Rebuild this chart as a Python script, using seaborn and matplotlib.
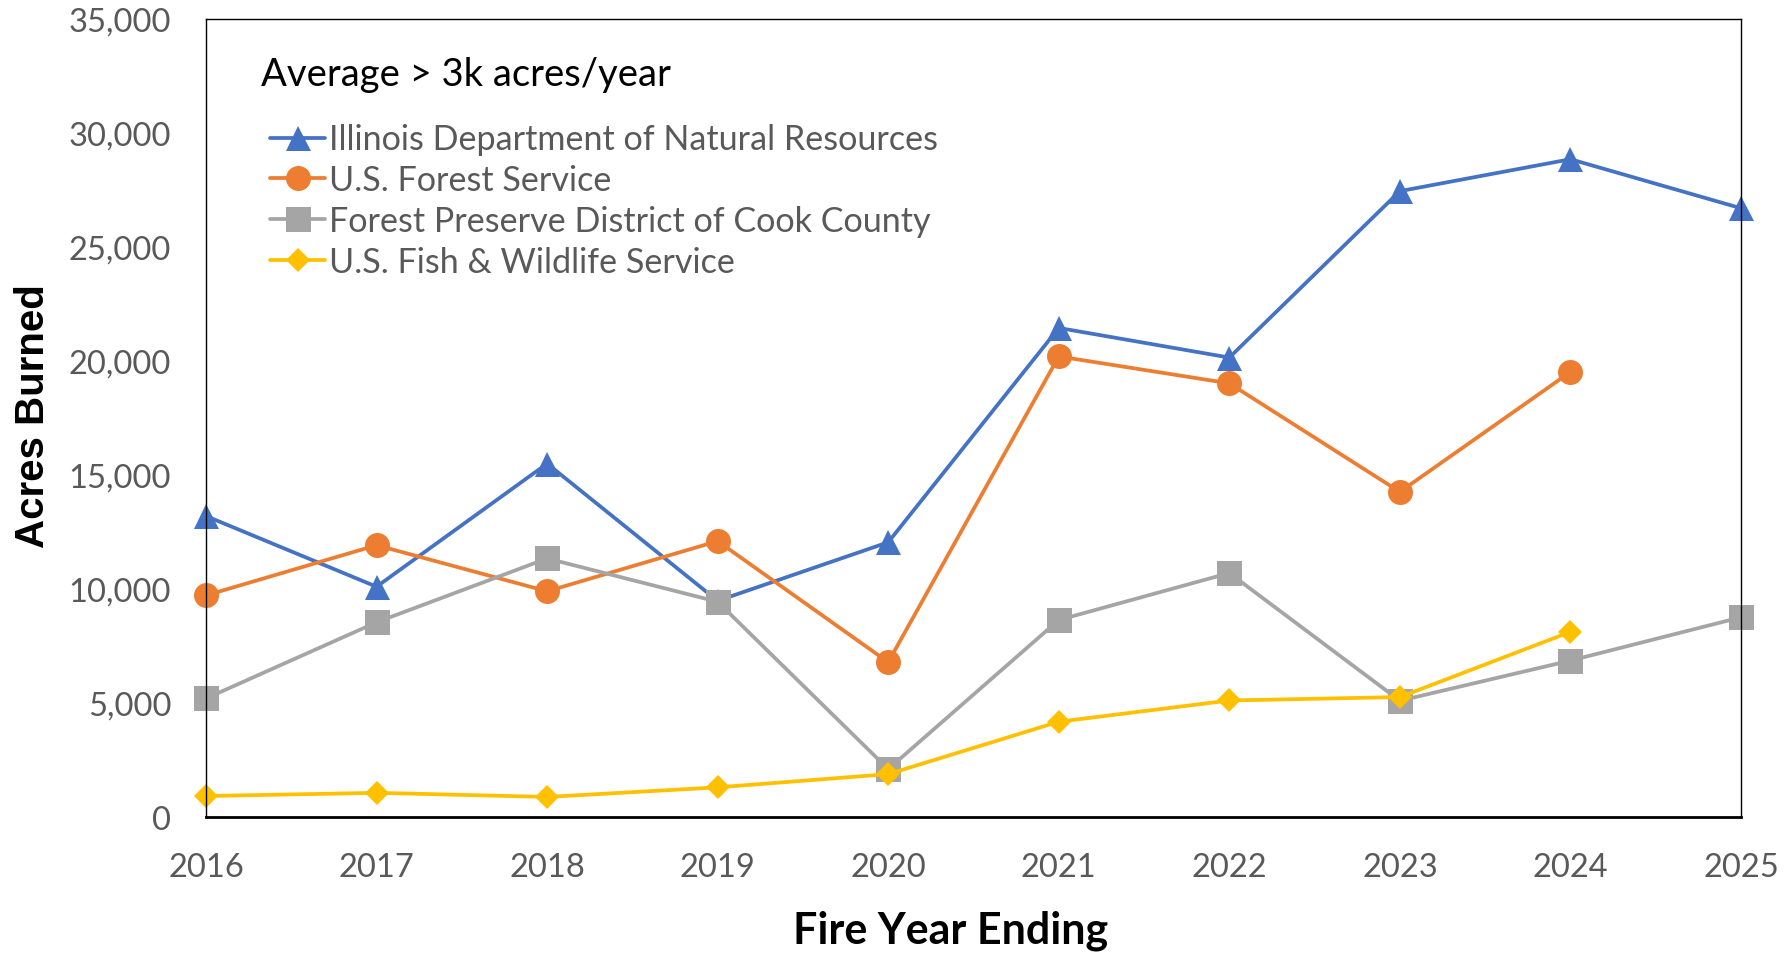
import matplotlib
matplotlib.use("Agg")
import matplotlib.pyplot as plt
import seaborn as sns
from matplotlib.ticker import FuncFormatter

sns.set_theme(style="white")
plt.rcParams['font.family'] = ['Lato', 'DejaVu Sans']

# ---- data ----
years = [2016, 2017, 2018, 2019, 2020, 2021, 2022, 2023, 2024, 2025]
idnr = [13200, 10100, 15500, 9480, 12050, 21450, 20150, 27450, 28850, 26700]
usfs_years = [2016, 2017, 2018, 2019, 2020, 2021, 2022, 2023, 2024]
usfs = [9720, 11920, 9900, 12100, 6790, 20200, 19020, 14260, 19520]
fpdcc = [5200, 8540, 11340, 9440, 2100, 8640, 10700, 5100, 6860, 8760]
usfws_years = [2016, 2017, 2018, 2019, 2020, 2021, 2022, 2023, 2024]
usfws = [920, 1060, 880, 1300, 1880, 4180, 5110, 5260, 8120]

series_names = ["Illinois Department of Natural Resources",
                "U.S. Forest Service",
                "Forest Preserve District of Cook County",
                "U.S. Fish & Wildlife Service"]
y_ticks = [0, 5000, 10000, 15000, 20000, 25000, 30000, 35000]
legend_title = "Average > 3k acres/year"
x_label = "Fire Year Ending"
y_label = "Acres Burned"

colors = ["#4472C4", "#ED7D31", "#A5A5A5", "#FFC000"]
markers = ["^", "o", "s", "D"]
msizes = [18, 18, 18, 12.5]

W, H = 1786, 954
fig = plt.figure(figsize=(W / 100, H / 100), dpi=100)
ax = fig.add_axes([206 / W, 1 - 818 / H, 1535 / W, 798 / H])

data = [(years, idnr), (usfs_years, usfs), (years, fpdcc), (usfws_years, usfws)]
for (xs, ys), name, c, m, ms in zip(data, series_names, colors, markers, msizes):
    sns.lineplot(x=xs, y=ys, ax=ax, color=c, marker=m, markersize=ms,
                 markeredgewidth=0, linewidth=2.7, label=name, clip_on=False)

ax.set_xlim(years[0], years[-1])
ax.set_ylim(y_ticks[0], y_ticks[-1])
ax.set_xticks(years)
ax.set_xticklabels([str(y) for y in years])
ax.set_yticks(y_ticks)
ax.yaxis.set_major_formatter(FuncFormatter(lambda v, p: f"{int(v):,}"))
ax.tick_params(axis='both', length=0, labelsize=23.5, labelcolor="#595959")
ax.tick_params(axis='y', pad=25)
ax.tick_params(axis='x', pad=25)

for s in ["left", "right", "top"]:
    ax.spines[s].set_color("black")
    ax.spines[s].set_linewidth(1.0)
ax.spines["bottom"].set_color("black")
ax.spines["bottom"].set_linewidth(2.0)

ax.set_ylabel(y_label, fontsize=29, fontweight="bold", family=["Liberation Sans", "DejaVu Sans"], color="black")
ax.yaxis.set_label_coords((33 - 206) / 1535, 0.5 + (419 - 416) / 798)
ax.yaxis.label.set_va("center")
ax.set_xlabel(x_label, fontsize=31, fontweight="bold", color="black")
ax.xaxis.set_label_coords((951 - 206) / 1535, (818 - 931) / 798)
ax.xaxis.label.set_va("center")

fig.text(261 / W, 1 - 75 / H, legend_title, fontsize=27.5, color="black", ha="left", va="center")
leg = ax.legend(loc="upper left", bbox_to_anchor=(270 / W, 1 - 124.5 / H),
                bbox_transform=fig.transFigure, frameon=False, fontsize=24.6,
                labelcolor="#595959", borderpad=0, borderaxespad=0,
                handlelength=1.62, handletextpad=0.1, labelspacing=0.26)

fig.savefig("out.png", dpi=100)
